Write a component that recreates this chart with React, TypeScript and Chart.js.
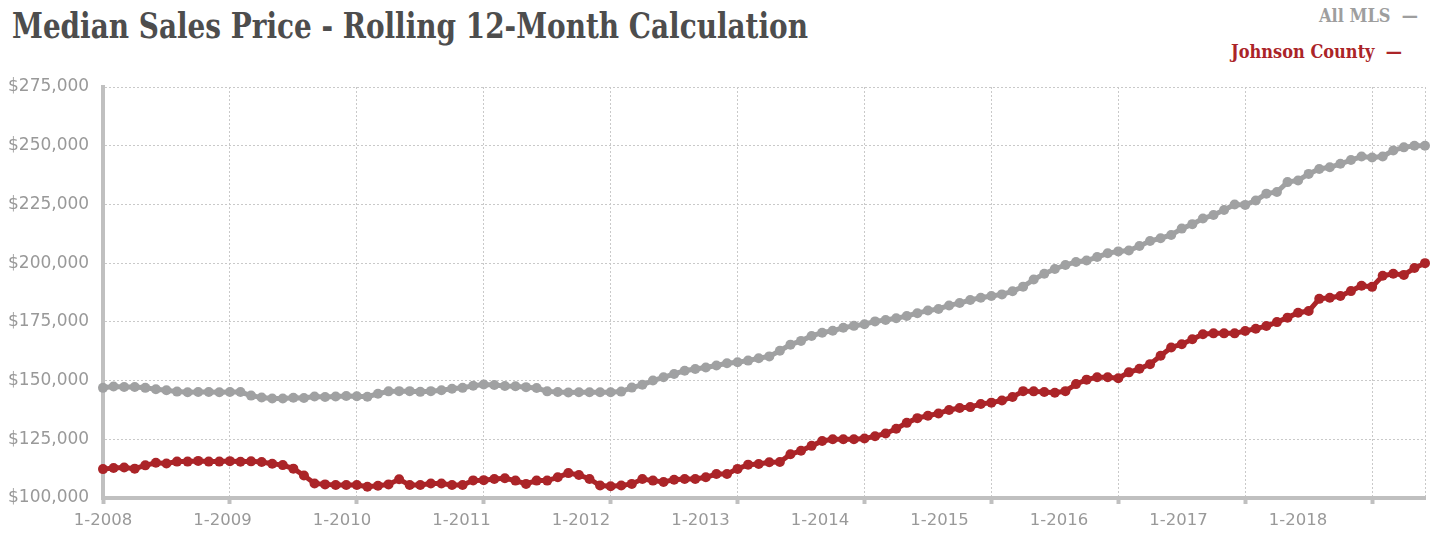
import React, { useEffect, useRef } from 'react';
import { Chart, registerables } from 'chart.js';

Chart.register(...registerables);

const START_YEAR = 2008;

// Monthly rolling 12-month median sales price, 1-2008 .. 6-2018
const allMls = [
  146900, 147500, 147300, 147300, 146900, 146300, 145900, 145300, 145000, 145100, 145100, 145000,
  145100, 145100, 143600, 142800, 142400, 142400, 142700, 142600, 143200, 143000, 143200, 143400,
  143300, 143100, 144400, 145400, 145500, 145500, 145200, 145500, 145900, 146500, 146900, 147800,
  148300, 148100, 147700, 147600, 147200, 146800, 145400, 145100, 144900, 145000, 145000, 145000,
  145000, 145300, 147000, 148200, 150000, 151400, 152800, 154200, 154900, 155600, 156400, 157400,
  157800, 158500, 159500, 160300, 162700, 165300, 166900, 169000, 170400, 171200, 172500, 173300,
  174000, 175200, 175800, 176500, 177500, 178700, 179800, 180500, 182000, 183000, 184300, 185300,
  186000, 186700, 188000, 190000, 193000, 195500, 197500, 199200, 200500, 201100, 202600, 204200,
  205000, 205400, 207300, 209400, 210600, 212000, 214700, 216600, 219000, 220500, 222600, 225000,
  224800, 226700, 229600, 230300, 234500, 235200, 238000, 240100, 240800, 242300, 243900, 245400,
  245000, 245400, 248000, 249300, 250000, 250000,
];

const johnsonCounty = [
  112300, 112800, 113000, 112500, 113900, 115000, 114700, 115500, 115500, 115800, 115500, 115500,
  115700, 115400, 115600, 115300, 114600, 114000, 112500, 109600, 106200, 105800, 105500, 105500,
  105500, 104800, 105200, 105800, 108000, 105500, 105500, 106200, 106200, 105500, 105500, 107500,
  107600, 108100, 108400, 107400, 106000, 107400, 107400, 108800, 110600, 109800, 108100, 105300,
  105000, 105300, 106000, 108100, 107400, 106800, 107800, 108100, 108100, 108800, 110200, 110200,
  112400, 114200, 114500, 115200, 115300, 118600, 120100, 122200, 124300, 125000, 125000, 125000,
  125300, 126300, 127500, 129500, 132000, 134000, 135000, 136000, 137500, 138300, 138700, 140000,
  140600, 141500, 143000, 145500, 145400, 145100, 144800, 145500, 148500, 150400, 151400, 151400,
  151000, 153500, 155000, 157000, 160600, 164100, 165500, 167600, 169700, 170100, 170100, 170100,
  171100, 172100, 173200, 174900, 176800, 178900, 179600, 184800, 185300, 186000, 188100, 190400,
  189900, 194600, 195500, 195000, 197900, 200000,
];

const xTickLabels = [
  '1-2008', '1-2009', '1-2010', '1-2011', '1-2012', '1-2013',
  '1-2014', '1-2015', '1-2016', '1-2017', '1-2018',
];

const Y_MIN = 100000;
const Y_MAX = 275000;
const Y_STEP = 25000;

const monthLabels = allMls.map(
  (_, i) => `${(i % 12) + 1}-${START_YEAR + Math.floor(i / 12)}`
);

const GRAY = '#a0a1a2';
const RED = '#ab2428';
const SLAB = '"DejaVu Serif Condensed", "DejaVu Serif", serif';

export default function App() {
  const ref = useRef<HTMLCanvasElement>(null);

  useEffect(() => {
    const last = allMls.length - 1;
    const chart = new Chart(ref.current as HTMLCanvasElement, {
      type: 'line',
      data: {
        labels: monthLabels,
        datasets: [
          {
            label: 'All MLS',
            data: allMls,
            borderColor: GRAY,
            backgroundColor: GRAY,
            borderWidth: 5,
            pointRadius: 5,
            pointBorderWidth: 0,
            pointHoverRadius: 5,
            pointBackgroundColor: GRAY,
            tension: 0,
            clip: false as any,
            xAxisID: 'x',
            yAxisID: 'y',
          },
          {
            label: 'Johnson County',
            data: johnsonCounty,
            borderColor: RED,
            backgroundColor: RED,
            borderWidth: 5,
            pointRadius: 5,
            pointBorderWidth: 0,
            pointHoverRadius: 5,
            pointBackgroundColor: RED,
            tension: 0,
            clip: false as any,
            xAxisID: 'x',
            yAxisID: 'y',
          },
        ],
      },
      options: {
        responsive: false,
        animation: false,
        events: [],
        layout: { padding: { left: 8, top: 87, right: 12, bottom: 0 } },
        plugins: {
          legend: { display: false },
          tooltip: { enabled: false },
        },
        scales: {
          x: {
            type: 'category',
            position: 'bottom',
            ticks: { display: false },
            grid: {
              color: (c: any) =>
                c.index % 12 === 0 || c.index === last ? '#c9c9c9' : 'rgba(0,0,0,0)',
              lineWidth: 1,
              drawTicks: true,
              tickLength: 6,
              tickWidth: 4,
              tickColor: (c: any) =>
                c.index % 12 === 0 ? '#c0c0c0' : 'rgba(0,0,0,0)',
            },
            border: { display: true, color: '#c0c0c0', width: 4, dash: [2, 2] },
            afterFit: (s: any) => {
              s.height = 8;
            },
          },
          xl: {
            type: 'linear',
            position: 'bottom',
            min: 0,
            max: 1322 / 119.5,
            grid: { display: false, drawTicks: false },
            border: { display: false },
            ticks: {
              stepSize: 1,
              autoSkip: false,
              maxRotation: 0,
              includeBounds: false,
              padding: 5,
              color: '#999999',
              font: { family: '"DejaVu Sans", sans-serif', size: 16.5 },
              callback: (v: any) =>
                Number.isInteger(v) && xTickLabels[v] ? xTickLabels[v] : '',
            },
            afterFit: (s: any) => {
              s.height = 28;
            },
          },
          y: {
            type: 'linear',
            position: 'left',
            min: Y_MIN,
            max: Y_MAX,
            ticks: {
              stepSize: Y_STEP,
              crossAlign: 'far',
              color: '#999999',
              font: { family: '"DejaVu Sans", sans-serif', size: 17 },
              callback: (v: any) => '$' + Number(v).toLocaleString('en-US'),
            },
            grid: { color: '#c9c9c9', lineWidth: 1, drawTicks: false },
            border: { display: true, color: '#c0c0c0', width: 4, dash: [2, 2] },
            afterFit: (s: any) => {
              s.width = 95;
            },
          },
        },
      } as any,
    });
    return () => chart.destroy();
  }, []);

  return (
    <div
      style={{
        position: 'fixed',
        left: 0,
        top: 0,
        width: 1437,
        height: 534,
        background: '#ffffff',
        overflow: 'hidden',
      }}
    >
      <div
        style={{
          position: 'absolute',
          left: 12,
          top: 3,
          fontFamily: SLAB,
          fontWeight: 'bold',
          fontSize: 31,
          lineHeight: '40px',
          color: '#4d4d4d',
          whiteSpace: 'nowrap',
          transform: 'scaleY(1.14)',
          transformOrigin: 'left top',
        }}
      >
        Median Sales Price - Rolling 12-Month Calculation
      </div>
      <div
        style={{
          position: 'absolute',
          right: 19,
          top: 5,
          fontFamily: SLAB,
          fontWeight: 'bold',
          fontSize: 18,
          lineHeight: '22px',
          color: '#9e9e9e',
          whiteSpace: 'nowrap',
        }}
      >
        All MLS&nbsp; —
      </div>
      <div
        style={{
          position: 'absolute',
          right: 35,
          top: 41,
          fontFamily: SLAB,
          fontWeight: 'bold',
          fontSize: 18,
          lineHeight: '22px',
          color: RED,
          whiteSpace: 'nowrap',
        }}
      >
        Johnson County&nbsp; —
      </div>
      <canvas
        ref={ref}
        width={1437}
        height={534}
        style={{ position: 'absolute', left: 0, top: 0, width: 1437, height: 534 }}
      />
    </div>
  );
}
